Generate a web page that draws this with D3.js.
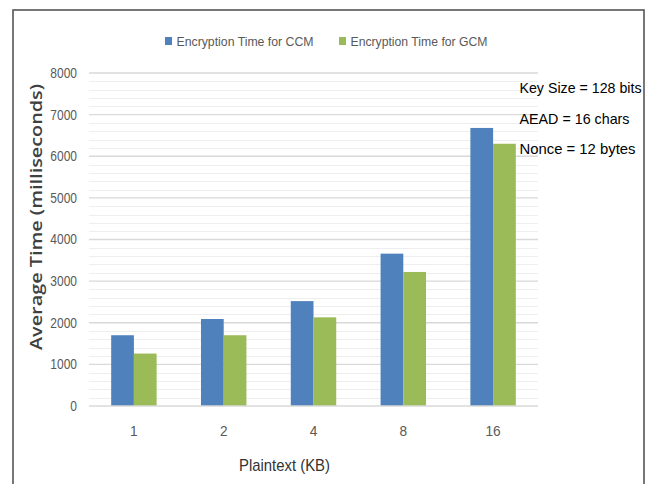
<!DOCTYPE html>
<html>
<head>
<meta charset="utf-8">
<script src="https://cdn.jsdelivr.net/npm/d3@7/dist/d3.min.js"></script>
<style>
  html, body { margin: 0; padding: 0; background: #fff; }
  svg { display: block; }
  .ui { font-family: "Liberation Sans", Arial, sans-serif; }
</style>
</head>
<body>
<svg id="chart" width="653" height="484"></svg>
<script>
// Plaintext sizes (KB) and average encryption times (ms)
const categories = ["1", "2", "4", "8", "16"];
const seriesNames = ["Encryption Time for CCM", "Encryption Time for GCM"];
const ccmTimes = [1700, 2090, 2520, 3660, 6680];
const gcmTimes = [1260, 1700, 2130, 3220, 6300];
const yTicks = [0, 1000, 2000, 3000, 4000, 5000, 6000, 7000, 8000];
const notes = ["Key Size = 128 bits", "AEAD = 16 chars", "Nonce = 12 bytes"];

const colors = ["#4f81bd", "#9bbb59"];
const series = [ccmTimes, gcmTimes];

const svg = d3.select("#chart");
const W = 653, H = 484;

svg.append("rect").attr("width", W).attr("height", H).attr("fill", "#fff");

// outer frame
svg.append("rect")
  .attr("x", 13).attr("y", 10)
  .attr("width", 631).attr("height", 490)
  .attr("fill", "none")
  .attr("stroke", "#555")
  .attr("stroke-width", 1.6);

const plot = { left: 89, right: 538, top: 73, bottom: 406 };

const y = d3.scaleLinear().domain([0, 8000]).range([plot.bottom, plot.top]);
const x = d3.scaleBand().domain(categories)
  .range([plot.left, plot.right])
  .paddingInner(0.494).paddingOuter(0.247);
const xs = d3.scaleBand().domain(d3.range(series.length)).range([0, x.bandwidth()]);

// condensed text: squeeze glyphs to a narrow width per character
function condense(sel, perChar) {
  sel.each(function () {
    const t = d3.select(this);
    t.attr("textLength", t.text().length * perChar).attr("lengthAdjust", "spacingAndGlyphs");
  });
}

// minor gridlines every 200
const minor = d3.range(200, 8000, 200).filter(v => v % 1000 !== 0);
svg.append("g").selectAll("line").data(minor).join("line")
  .attr("x1", plot.left).attr("x2", plot.right)
  .attr("y1", d => Math.round(y(d)) + 0.5).attr("y2", d => Math.round(y(d)) + 0.5)
  .attr("stroke", "#eeeeee").attr("stroke-width", 1);

// major gridlines
svg.append("g").selectAll("line").data(yTicks.filter(v => v > 0)).join("line")
  .attr("x1", plot.left).attr("x2", plot.right)
  .attr("y1", d => y(d)).attr("y2", d => y(d))
  .attr("stroke", "#d9d9d9").attr("stroke-width", 1.3);

// bars
const groups = svg.append("g").selectAll("g").data(categories).join("g")
  .attr("transform", d => `translate(${x(d)},0)`);
groups.selectAll("rect")
  .data((d, i) => series.map((s, k) => ({ k, v: s[i] })))
  .join("rect")
  .attr("x", d => xs(d.k))
  .attr("width", xs.bandwidth())
  .attr("y", d => y(d.v))
  .attr("height", d => y(0) - y(d.v))
  .attr("fill", d => colors[d.k]);

// x axis line
svg.append("line")
  .attr("x1", plot.left).attr("x2", plot.right)
  .attr("y1", y(0)).attr("y2", y(0))
  .attr("stroke", "#d9d9d9").attr("stroke-width", 1.3);

// y axis labels
const yAxis = svg.append("g")
  .attr("transform", `translate(${plot.left - 12},0)`)
  .call(d3.axisLeft(y).tickValues(yTicks).tickSize(0).tickPadding(0).tickFormat(d3.format("d")));
yAxis.select(".domain").remove();
yAxis.selectAll("text")
  .attr("class", "ui")
  .style("font-size", "14px")
  .attr("fill", "#595959")
  .call(condense, 6.67);

// x axis labels
const xAxis = svg.append("g")
  .attr("transform", `translate(0,${plot.bottom + 19})`)
  .call(d3.axisBottom(x).tickSize(0).tickPadding(0));
xAxis.select(".domain").remove();
xAxis.selectAll("text")
  .attr("class", "ui")
  .style("font-size", "15px")
  .attr("fill", "#595959")
  .call(condense, 7.6);

// axis titles
svg.append("text")
  .attr("class", "ui")
  .attr("x", 284.5).attr("y", 471)
  .attr("text-anchor", "middle")
  .style("font-size", "17px")
  .attr("fill", "#333")
  .attr("textLength", 91).attr("lengthAdjust", "spacingAndGlyphs")
  .text("Plaintext (KB)");

svg.append("text")
  .attr("transform", "translate(42,217) rotate(-90)")
  .attr("text-anchor", "middle")
  .style("font-family", "'Open Sans', 'DejaVu Sans', sans-serif")
  .style("font-weight", 600)
  .style("font-size", "16.5px")
  .attr("fill", "#404040")
  .attr("textLength", 266).attr("lengthAdjust", "spacingAndGlyphs")
  .text("Average Time (milliseconds)");

// legend
const legendX = [165, 339];
const legend = svg.append("g").selectAll("g").data(seriesNames).join("g")
  .attr("transform", (d, i) => `translate(${legendX[i]},0)`);
legend.append("rect")
  .attr("x", 0).attr("y", 37).attr("width", 7).attr("height", 8)
  .attr("fill", (d, i) => colors[i]);
legend.append("text")
  .attr("class", "ui")
  .attr("x", 11.5).attr("y", 45.5)
  .style("font-size", "12.5px")
  .attr("fill", "#595959")
  .attr("textLength", 137).attr("lengthAdjust", "spacingAndGlyphs")
  .text(d => d);

// parameter notes
const noteWidths = [122, 110, 116];
svg.append("g").selectAll("text").data(notes).join("text")
  .attr("class", "ui")
  .attr("x", 519.5)
  .attr("y", (d, i) => 93 + i * 30.5)
  .style("font-size", "15px")
  .attr("fill", "#000")
  .attr("textLength", (d, i) => noteWidths[i]).attr("lengthAdjust", "spacingAndGlyphs")
  .text(d => d);
</script>
</body>
</html>
